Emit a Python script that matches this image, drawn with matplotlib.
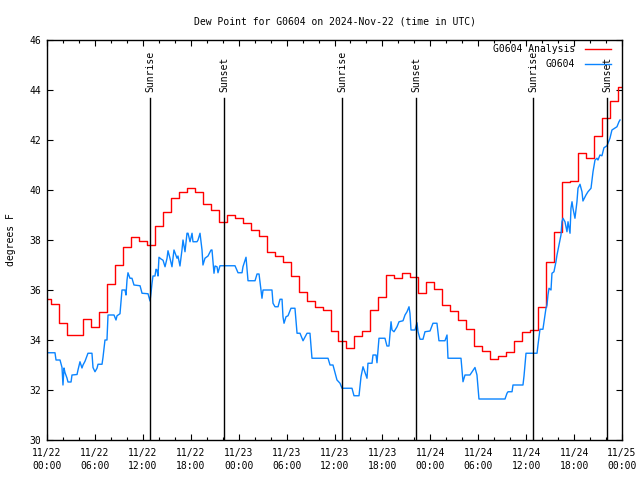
import pandas as pd
import matplotlib
matplotlib.use("Agg")
import matplotlib.pyplot as plt
import matplotlib.dates as mdates

# hourly analysis values (deg F), hour 0 = 2024-11-22 00:00 UTC
red_hours = list(range(73))
red_vals = [35.64, 35.43, 34.67, 34.2, 34.2, 34.83, 34.52, 35.13, 36.25, 37.0,
            37.71, 38.11, 37.96, 37.79, 38.56, 39.11, 39.67, 39.91, 40.07, 39.91,
            39.43, 39.2, 38.71, 39.0, 38.87, 38.69, 38.4, 38.16, 37.53, 37.36,
            37.13, 36.56, 35.91, 35.57, 35.33, 35.2, 34.36, 33.96, 33.67, 34.16,
            34.36, 35.2, 35.73, 36.6, 36.47, 36.67, 36.53, 35.87, 36.31, 36.03,
            35.4, 35.17, 34.8, 34.43, 33.76, 33.56, 33.23, 33.36, 33.52, 33.97,
            34.32, 34.4, 35.33, 37.1, 38.33, 40.31, 40.37, 41.47, 41.27, 42.17,
            42.89, 43.56, 44.1]

# station obs (hours since start, deg F)
obs_hours = [0.00, 1.00, 1.13, 1.63, 1.88, 2.00, 2.13, 2.25, 2.50, 2.63, 3.01, 3.13,
             3.76, 3.88, 4.13, 4.38, 4.51, 4.76, 5.13, 5.63, 5.76, 6.01, 6.26, 6.39,
             6.89, 7.01, 7.26, 7.51, 7.64, 8.39, 8.64, 8.77, 9.14, 9.39, 9.77, 9.89,
             10.02, 10.14, 10.39, 10.64, 10.89, 11.65, 11.90, 12.65, 12.90, 13.02, 13.15, 13.27,
             13.52, 13.65, 13.77, 13.90, 14.02, 14.28, 14.53, 14.78, 15.03, 15.15, 15.40, 15.65,
             15.90, 16.28, 16.40, 16.65, 16.90, 17.03, 17.28, 17.53, 17.66, 17.91, 18.16, 18.28,
             18.78, 18.91, 19.16, 19.41, 19.53, 19.78, 20.16, 20.54, 20.66, 20.91, 21.04, 21.29,
             21.41, 21.66, 23.54, 23.92, 24.42, 24.54, 24.92, 25.17, 26.05, 26.30, 26.55, 26.92,
             27.05, 28.17, 28.30, 28.55, 28.93, 29.18, 29.43, 29.55, 29.68, 29.93, 30.18, 30.55,
             31.05, 31.31, 31.68, 32.06, 32.56, 32.93, 33.18, 35.19, 35.44, 35.81, 36.06, 36.31,
             36.69, 36.94, 38.19, 38.44, 39.07, 39.32, 39.57, 40.07, 40.19, 40.70, 40.82, 41.20,
             41.32, 41.57, 42.32, 42.57, 42.82, 43.08, 43.20, 43.45, 43.83, 44.08, 44.58, 44.83,
             45.08, 45.33, 45.45, 45.58, 46.08, 46.33, 46.46, 46.71, 47.08, 47.33, 47.96, 48.33,
             48.83, 49.08, 49.83, 50.09, 50.21, 51.84, 52.09, 52.34, 52.96, 53.59, 53.84, 54.09,
             57.35, 57.60, 57.73, 58.23, 58.35, 59.60, 59.73, 59.98, 61.36, 61.48, 61.73, 62.10,
             62.36, 62.48, 62.61, 62.73, 62.86, 63.11, 63.23, 63.48, 63.73, 63.86, 64.11, 64.36,
             64.48, 64.61, 64.86, 65.11, 65.24, 65.49, 65.61, 65.74, 65.86, 66.11, 66.36, 66.49,
             66.74, 66.99, 67.11, 67.49, 67.74, 68.12, 68.37, 68.62, 68.87, 68.99, 69.24, 69.49,
             69.74, 70.12, 70.49, 70.74, 71.37, 71.62, 71.75]
obs_vals = [33.49, 33.49, 33.2, 33.2, 32.9, 32.2, 32.88, 32.7, 32.48, 32.32, 32.32, 32.6,
            32.62, 32.8, 33.13, 32.88, 33.0, 33.15, 33.47, 33.47, 32.9, 32.73, 32.87, 33.03,
            33.03, 33.3, 34.0, 34.0, 35.0, 35.0, 34.8, 34.97, 35.05, 36.0, 36.0, 35.8,
            36.4, 36.69, 36.47, 36.47, 36.2, 36.17, 35.87, 35.85, 35.56, 35.87, 36.27, 36.56,
            36.56, 36.83, 36.8, 36.56, 37.31, 37.24, 37.19, 36.93, 37.27, 37.57, 37.27, 36.93,
            37.6, 37.27, 37.36, 36.96, 37.6, 38.0, 37.53, 38.27, 38.27, 37.93, 38.27, 37.93,
            37.93, 38.0, 38.27, 37.6, 37.0, 37.27, 37.36, 37.6, 37.6, 36.67, 36.96, 36.93,
            36.69, 36.97, 36.97, 36.69, 36.69, 36.93, 37.31, 36.37, 36.37, 36.64, 36.64, 35.67,
            36.0, 36.0, 35.47, 35.33, 35.33, 35.63, 35.63, 34.93, 34.67, 34.93, 34.97, 35.27,
            35.27, 34.27, 34.27, 33.97, 34.27, 34.27, 33.27, 33.27, 33.0, 33.0, 32.7, 32.4,
            32.27, 32.07, 32.07, 31.77, 31.77, 32.53, 32.93, 32.47, 33.07, 33.07, 33.4, 33.4,
            33.09, 34.07, 34.07, 33.76, 33.76, 34.73, 34.4, 34.33, 34.53, 34.73, 34.77, 35.0,
            35.13, 35.33, 35.07, 34.4, 34.4, 34.69, 34.33, 34.03, 34.03, 34.33, 34.36, 34.67,
            34.67, 33.97, 33.97, 34.2, 33.27, 33.27, 32.33, 32.6, 32.6, 32.9, 32.6, 31.64,
            31.64, 31.87, 31.93, 31.93, 32.2, 32.2, 32.56, 33.47, 33.47, 33.8, 34.43, 34.43,
            35.0, 35.27, 35.4, 35.8, 36.07, 36.0, 36.67, 36.73, 37.13, 37.4, 37.8, 38.2,
            38.73, 38.87, 38.73, 38.33, 38.73, 38.27, 39.27, 39.53, 39.27, 38.87, 39.53, 40.07,
            40.23, 39.93, 39.56, 39.8, 39.93, 40.07, 40.73, 41.2, 41.27, 41.2, 41.4, 41.37,
            41.69, 41.77, 42.07, 42.4, 42.53, 42.73, 42.8]

sun_times = ["2024-11-22 12:54", "2024-11-22 22:10", "2024-11-23 12:56",
             "2024-11-23 22:12", "2024-11-24 12:52", "2024-11-24 22:07"]
sun_labels = ["Sunrise", "Sunset", "Sunrise", "Sunset", "Sunrise", "Sunset"]

base = pd.Timestamp("2024-11-22 00:00")
t_red = base + pd.to_timedelta(red_hours, unit="h")
t_obs = base + pd.to_timedelta(obs_hours, unit="h")

plt.rcParams["font.family"] = "DejaVu Sans Mono"
plt.rcParams["font.size"] = 7

fig = plt.figure(figsize=(6.4, 4.8), dpi=100)
ax = fig.add_axes([47/640, 40/480, 575/640, 400/480])

ax.plot(t_red, red_vals, color="#ff0000", lw=1.0, drawstyle="steps-mid")
ax.plot(t_obs, obs_vals, color="#0a84ff", lw=1.0)

for ts, lab in zip(sun_times, sun_labels):
    t = pd.Timestamp(ts)
    ax.axvline(t, ymin=0, ymax=0.855, color="black", lw=1.0)
    ax.text(t, 0.87, lab, transform=ax.get_xaxis_transform(), rotation=90,
            ha="center", va="bottom", fontsize=7)

ax.set_xlim(base, base + pd.Timedelta(hours=72))
ax.set_ylim(30, 46)
ax.set_yticks(range(30, 47, 2))
ax.xaxis.set_major_locator(mdates.HourLocator(byhour=[0, 6, 12, 18]))
ax.xaxis.set_minor_locator(mdates.HourLocator(byhour=range(0, 24, 2)))
ax.xaxis.set_major_formatter(mdates.DateFormatter("%m/%d\n%H:%M"))
ax.tick_params(which="both", direction="in", top=True, right=True, width=0.8)
ax.tick_params(which="major", length=4.5)
ax.tick_params(which="minor", length=2.5)
ax.tick_params(axis="x", pad=6)
ax.tick_params(axis="y", pad=4)
for lbl in ax.get_xticklabels():
    lbl.set_linespacing(1.35)
for s in ax.spines.values():
    s.set_linewidth(1.0)

ax.set_ylabel("degrees F", labelpad=10, fontsize=7)
ax.set_title("Dew Point for G0604 on 2024-Nov-22 (time in UTC)", pad=11, fontsize=7)

# gnuplot-style key, text right-justified before the sample line
for row, (name, col) in enumerate([("G0604 Analysis", "#ff0000"), ("G0604", "#0a84ff")]):
    yy = 0.978 - row * 0.037
    ax.text(0.918, yy, name, transform=ax.transAxes, ha="right", va="center")
    ax.plot([0.935, 0.98], [yy, yy], transform=ax.transAxes, color=col, lw=1.0)

fig.savefig("out.png", dpi=100)
